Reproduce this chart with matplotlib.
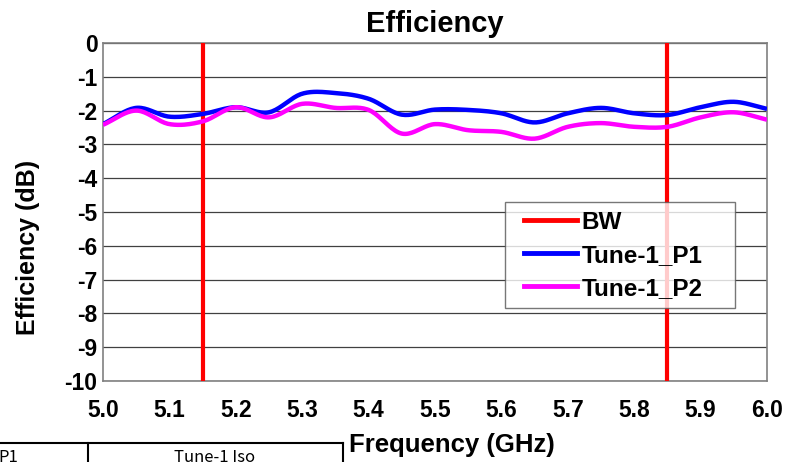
import numpy as np
import matplotlib
matplotlib.use("Agg")
import matplotlib.pyplot as plt
from matplotlib.lines import Line2D
from matplotlib.legend_handler import HandlerLine2D

# data (GHz / dB)
freq = [5.00, 5.05, 5.10, 5.15, 5.20, 5.25, 5.30, 5.35, 5.40, 5.45, 5.50,
        5.55, 5.60, 5.65, 5.70, 5.75, 5.80, 5.85, 5.90, 5.95, 6.00]
tune1_p1 = [-2.40, -1.92, -2.18, -2.10, -1.90, -2.05, -1.50, -1.48, -1.65, -2.12, -1.97,
            -1.98, -2.08, -2.35, -2.08, -1.92, -2.08, -2.13, -1.90, -1.74, -1.95]
tune1_p2 = [-2.42, -2.00, -2.40, -2.32, -1.90, -2.20, -1.80, -1.92, -1.98, -2.68, -2.40,
            -2.58, -2.63, -2.83, -2.48, -2.37, -2.48, -2.48, -2.20, -2.05, -2.27]
bw_edges = [5.15, 5.85]

x_ticks = [5.0, 5.1, 5.2, 5.3, 5.4, 5.5, 5.6, 5.7, 5.8, 5.9, 6.0]
y_ticks = [0, -1, -2, -3, -4, -5, -6, -7, -8, -9, -10]


def smooth(x, y, n=20):
    ''' Catmull-Rom curve through the points, like Excel's smoothed line '''
    x = np.asarray(x, float)
    y = np.asarray(y, float)
    px = np.concatenate([[2 * x[0] - x[1]], x, [2 * x[-1] - x[-2]]])
    py = np.concatenate([[2 * y[0] - y[1]], y, [2 * y[-1] - y[-2]]])
    t = np.linspace(0, 1, n, endpoint=False)
    xs, ys = [], []
    for i in range(1, len(px) - 2):
        for p, out in ((px, xs), (py, ys)):
            p0, p1, p2, p3 = p[i - 1], p[i], p[i + 1], p[i + 2]
            out.extend(0.5 * (2 * p1 + (-p0 + p2) * t
                              + (2 * p0 - 5 * p1 + 4 * p2 - p3) * t ** 2
                              + (-p0 + 3 * p1 - 3 * p2 + p3) * t ** 3))
    xs.append(x[-1])
    ys.append(y[-1])
    return np.array(xs), np.array(ys)


plt.rcParams['font.family'] = ['Liberation Sans', 'DejaVu Sans']
plt.rcParams['font.weight'] = 'bold'

fig = plt.figure(figsize=(7.85, 4.62), dpi=100)
ax = fig.add_axes([103 / 785, 1 - 381 / 462, 664 / 785, 338 / 462])

for y in y_ticks:
    ax.axhline(y, color='#404040', lw=0.9, zorder=1)

for xb in bw_edges:
    ax.axvline(xb, color='#ff0000', lw=3, zorder=3)

bx, by = smooth(freq, tune1_p1)
ax.plot(bx, by, color='#0000ff', lw=3.2, zorder=4, solid_capstyle='butt')
mx, my = smooth(freq, tune1_p2)
ax.plot(mx, my, color='#ff00ff', lw=3.2, zorder=4, solid_capstyle='butt')

ax.set_xlim(5.0, 6.0)
ax.set_ylim(-10, 0)
ax.set_xticks(x_ticks)
ax.set_xticklabels(['%.1f' % v for v in x_ticks])
ax.set_yticks(y_ticks)
ax.set_yticklabels([str(v) for v in y_ticks])
ax.tick_params(axis='x', length=0, labelsize=16.5, pad=13)
ax.tick_params(axis='y', length=0, labelsize=16.5, pad=4)
for spine in ax.spines.values():
    spine.set_color('#808080')
    spine.set_linewidth(1.2)

ax.set_title('Efficiency', fontsize=21, fontweight='bold', pad=8)
fig.text(28 / 785, 1 - 247 / 462, 'Efficiency (dB)', fontsize=18, rotation=90,
         fontweight='bold', ha='center', va='center')
fig.text(452 / 785, 1 - 445 / 462, 'Frequency (GHz)', fontsize=18.5,
         fontweight='bold', ha='center', va='center')

handles = [Line2D([], [], color='#ff0000', lw=3.5),
           Line2D([], [], color='#0000ff', lw=3.5),
           Line2D([], [], color='#ff00ff', lw=3.5)]
leg_x0 = (505 - 103) / 664
leg_x1 = (735 - 103) / 664
leg_y1 = (381 - 202) / 338
leg = ax.legend(handles, ['BW', 'Tune-1_P1', 'Tune-1_P2'],
                loc='upper left', bbox_to_anchor=(leg_x0, leg_y1 - 0.5, leg_x1 - leg_x0, 0.5),
                mode='expand', handler_map={Line2D: HandlerLine2D(xpad=0.45)},
                fontsize=17.5, frameon=True, fancybox=False, handlelength=2.6,
                handletextpad=0.2, borderpad=0.35, labelspacing=0.42, borderaxespad=0)
leg.get_frame().set_edgecolor('#555555')
leg.get_frame().set_linewidth(1.0)
leg.set_zorder(6)

# fragment of a table cut off along the bottom of the screenshot
fig.add_artist(Line2D([0, 343 / 785], [1 - 443 / 462] * 2, color='black', lw=1.5))
for xv in (88, 343):
    fig.add_artist(Line2D([xv / 785] * 2, [1 - 443 / 462, 0], color='black', lw=1.5))
fig.text(-2 / 785, 1 - 449 / 462, 'P1', fontsize=12, fontweight='normal',
         family=['Noto Sans CJK JP', 'DejaVu Sans'], ha='left', va='top')
fig.text(215 / 785, 1 - 449 / 462, 'Tune-1 Iso', fontsize=12, fontweight='normal',
         family=['Noto Sans CJK JP', 'DejaVu Sans'], ha='center', va='top')

fig.savefig('out.png', dpi=100)
